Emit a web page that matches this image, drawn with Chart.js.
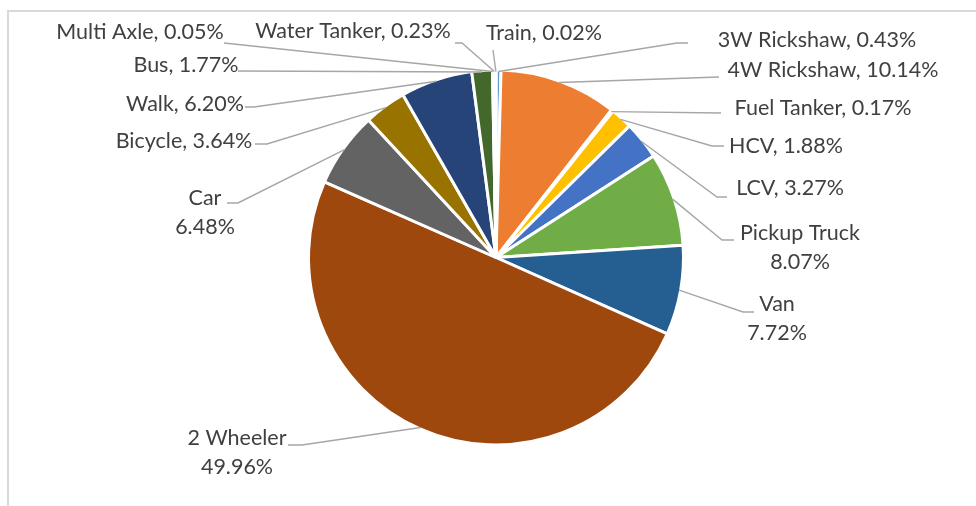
<!DOCTYPE html>
<html>
<head>
<meta charset="utf-8">
<script src="https://cdn.jsdelivr.net/npm/chart.js@4.4.1/dist/chart.umd.min.js"></script>
<style>
  html, body { margin: 0; padding: 0; background: #fff; }
  #wrap { position: relative; width: 976px; height: 506px; overflow: hidden; }
  #frame { position: absolute; left: 7px; top: 10px; width: 1000px; height: 520px; border: 2px solid #d9d9d9; box-sizing: border-box; }
  canvas { position: absolute; left: 0; top: 0; }
</style>
</head>
<body>
<div id="wrap">
  <div id="frame"></div>
  <canvas id="chart" width="976" height="506"></canvas>
</div>
<script>
// trip mode share, clockwise from 12 o'clock
const modes = ['3W Rickshaw', '4W Rickshaw', 'Fuel Tanker', 'HCV', 'LCV', 'Pickup Truck', 'Van',
  '2 Wheeler', 'Car', 'Bicycle', 'Walk', 'Bus', 'Multi Axle', 'Water Tanker', 'Train'];
const shares = [0.43, 10.14, 0.17, 1.88, 3.27, 8.07, 7.72, 49.96, 6.48, 3.64, 6.20, 1.77, 0.05, 0.23, 0.02];
const colors = ['#5b9bd5', '#ed7d31', '#a5a5a5', '#ffc000', '#4472c4', '#70ad47', '#255e91',
  '#9e480e', '#636363', '#997300', '#264478', '#43682b', '#698ed0', '#f1975a', '#b7b7b7'];
// labels that break name / value onto two lines
const twoLine = ['Pickup Truck', 'Van', '2 Wheeler', 'Car'];

// label placement: text centre x, first line y, leader start x/y, elbow end x
const labelPos = [
  [817, 40, 688, 43, 677],
  [833, 70, 719, 77, 719],
  [823, 108, 721, 113, 721],
  [786, 146, 724, 146, 712],
  [790, 188, 727, 197, 717],
  [800, 233, 734, 240, 722],
  [777, 304, 754, 312, 743],
  [237, 438, 288, 445, 302],
  [205, 198, 227, 203, 238],
  [184, 141, 255, 144, 267],
  [185, 104, 245, 107, 254],
  [186, 65, 238, 71, 238],
  [140, 32, 224, 43, 224],
  [353, 31, 455, 43, 462],
  [544, 33, 493, 50, 493]
];

const labelFont = '21.5px Lato, "Open Sans", sans-serif';
const lineGap = 29;

const leaderLabels = {
  id: 'leaderLabels',
  afterDatasetsDraw(chart) {
    const ctx = chart.ctx;
    const arcs = chart.getDatasetMeta(0).data;
    ctx.save();
    arcs.forEach((arc, i) => {
      const { x, y, startAngle, endAngle, outerRadius } = arc.getProps(['x', 'y', 'startAngle', 'endAngle', 'outerRadius'], true);
      const mid = (startAngle + endAngle) / 2;
      const r = outerRadius - 1.5;
      const ax = x + Math.cos(mid) * r;
      const ay = y + Math.sin(mid) * r;
      const [tx, ty, lx, ly, ex] = labelPos[i];

      // leader line
      ctx.strokeStyle = '#a6a6a6';
      ctx.lineWidth = 1.4;
      ctx.beginPath();
      ctx.moveTo(lx, ly);
      ctx.lineTo(ex, ly);
      ctx.lineTo(ax, ay);
      ctx.stroke();

      // label text
      ctx.font = labelFont;
      ctx.fillStyle = '#404040';
      ctx.textAlign = 'center';
      ctx.textBaseline = 'middle';
      const pct = shares[i].toFixed(2) + '%';
      if (twoLine.includes(modes[i])) {
        ctx.fillText(modes[i], tx, ty);
        ctx.fillText(pct, tx, ty + lineGap);
      } else {
        ctx.fillText(modes[i] + ', ' + pct, tx, ty);
      }
    });
    ctx.restore();
  }
};

new Chart(document.getElementById('chart'), {
  type: 'pie',
  data: {
    labels: modes,
    datasets: [{
      data: shares,
      backgroundColor: colors,
      borderColor: '#ffffff',
      borderWidth: 3
    }]
  },
  options: {
    responsive: false,
    animation: false,
    radius: 187.5,
    layout: { padding: { left: 20, right: 4, top: 10, bottom: 1 } },
    plugins: {
      legend: { display: false },
      tooltip: { enabled: false }
    }
  },
  plugins: [leaderLabels]
});
</script>
</body>
</html>
